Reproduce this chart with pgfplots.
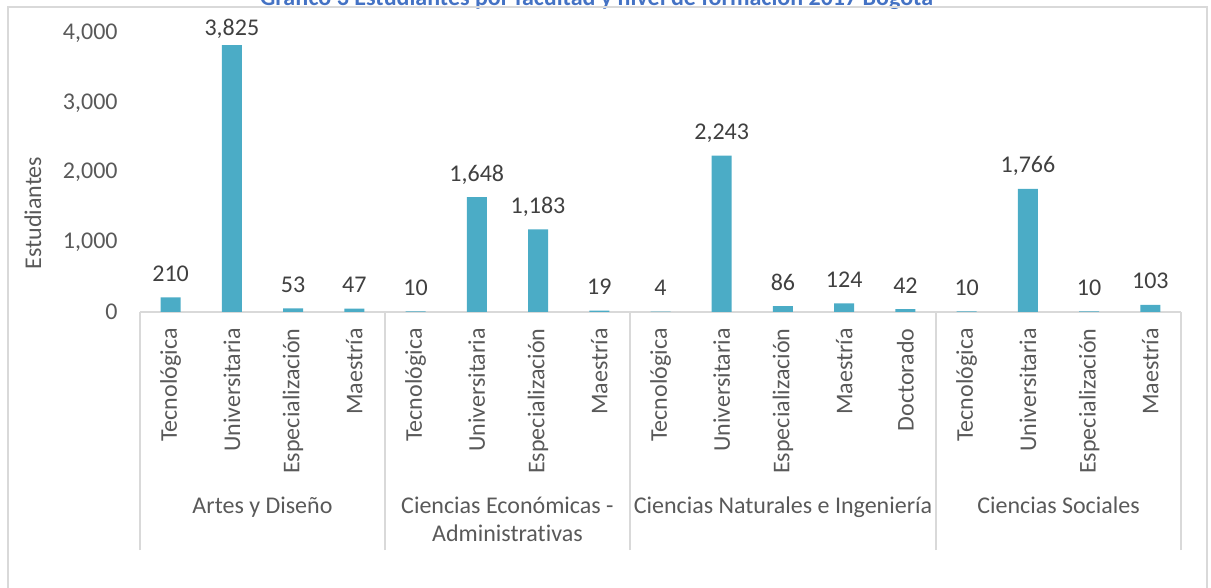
\documentclass[border=0pt]{standalone}
\usepackage{pgfplots}
\pgfplotsset{compat=1.18}
\usepackage{fontspec}
\setmainfont{Carlito}[Ligatures=NoCommon]

\definecolor{barcol}{RGB}{75,172,198}
\definecolor{txt}{RGB}{89,89,89}
\definecolor{lbl}{RGB}{64,64,64}
\definecolor{rule}{RGB}{217,217,217}
\definecolor{ttl}{RGB}{68,114,196}
\newcommand\fs{\fontsize{12}{14.4}\selectfont}

\begin{document}
\begin{tikzpicture}[font=\fs]
\begin{axis}[
  at={(0,0)}, anchor=south west,
  scale only axis, width=520.5pt, height=139.5pt,
  ymin=0, ymax=4000, xmin=-0.5, xmax=16.5,
  ybar, bar width=10pt,
  clip=false,
  axis x line*=bottom, axis y line*=left,
  y axis line style={draw=none},
  x axis line style={draw=rule, line width=0.8pt},
  ytick={0,1000,2000,3000,4000},
  scaled y ticks=false,
  /pgf/number format/1000 sep={,},
  /pgf/number format/assume math mode=true,
  ytick style={draw=none},
  yticklabel style={text=txt, inner sep=0pt, xshift=-11pt, font=\fs},
  xtick={0,...,16},
  xticklabels={Tecnológica,Universitaria,Especialización,Maestría,
    Tecnológica,Universitaria,Especialización,Maestría,
    Tecnológica,Universitaria,Especialización,Maestría,Doctorado,
    Tecnológica,Universitaria,Especialización,Maestría},
  xticklabel style={rotate=90, anchor=east, inner sep=0pt, text=txt, font=\fs},
  xticklabel shift=8pt,
  major tick length=0pt,
  extra x ticks={-0.5,3.5,7.5,12.5,16.5},
  extra x tick labels={},
  extra x tick style={major tick length=119pt, tick align=outside,
    tick style={draw=rule, line width=0.8pt}},
  nodes near coords,
  nodes near coords style={anchor=base, inner sep=0pt, yshift=8pt, text=lbl, font=\fs},
  coordinate style/.condition={y>3000}{yshift=-3pt},
]
\addplot[fill=barcol, draw=none] coordinates {
  (0,210) (1,3825) (2,53) (3,47)
  (4,10) (5,1648) (6,1183) (7,19)
  (8,4) (9,2243) (10,86) (11,124) (12,42)
  (13,10) (14,1766) (15,10) (16,103)};

% group labels
\node[anchor=base, text=txt] at (axis cs:1.5,0) [yshift=-100.5pt] {Artes y Diseño};
\node[anchor=base, text=txt] at (axis cs:5.5,0) [yshift=-100.5pt] {Ciencias Económicas -};
\node[anchor=base, text=txt] at (axis cs:5.5,0) [yshift=-114.8pt] {Administrativas};
\node[anchor=base, text=txt] at (axis cs:10,0) [yshift=-100.5pt] {Ciencias Naturales e Ingeniería};
\node[anchor=base, text=txt] at (axis cs:14.5,0) [yshift=-100.5pt] {Ciencias Sociales};
\end{axis}

\node[rotate=90, text=txt] at (-53.5pt,49.5pt) {Estudiantes};
\node[anchor=base, text=ttl, font=\bfseries\fs] at (228.25pt,153pt)
  {Gráfico 3 Estudiantes por facultad y nivel de formación 2017 Bogotá};
\draw[rule, line width=0.8pt] (-66pt,-150pt) rectangle (533.5pt,152.5pt);

\pgfresetboundingbox
\useasboundingbox (-70pt,-138pt) rectangle (535.5pt,156pt);
\end{tikzpicture}
\end{document}
